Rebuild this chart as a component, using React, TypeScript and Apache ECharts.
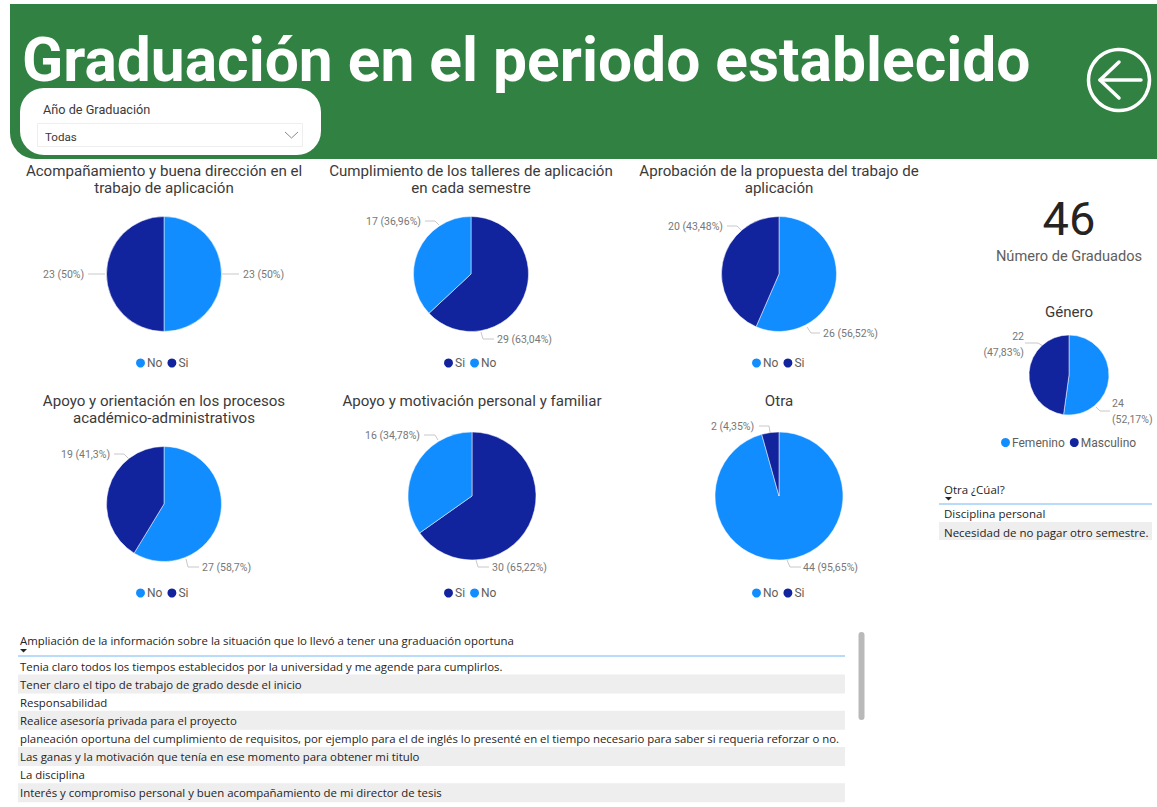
import React, { useEffect, useRef } from "react";
import * as echarts from "echarts";

const BLUE = "#118DFF";
const NAVY = "#12239E";

const pageTitle = "Graduación en el periodo establecido";
const slicerLabel = "Año de Graduación";
const slicerValue = "Todas";
const kpiValue = "46";
const kpiLabel = "Número de Graduados";

const acompanamiento = [{ name: "No", value: 23 }, { name: "Si", value: 23 }];
const talleres = [{ name: "Si", value: 29 }, { name: "No", value: 17 }];
const propuesta = [{ name: "No", value: 26 }, { name: "Si", value: 20 }];
const apoyoOrientacion = [{ name: "No", value: 27 }, { name: "Si", value: 19 }];
const apoyoPersonal = [{ name: "Si", value: 30 }, { name: "No", value: 16 }];
const otra = [{ name: "No", value: 44 }, { name: "Si", value: 2 }];
const genero = [{ name: "Femenino", value: 24 }, { name: "Masculino", value: 22 }];

const otraHeader = "Otra ¿Cúal?";
const otraRows = ["Disciplina personal", "Necesidad de no pagar otro semestre."];
const amplHeader = "Ampliación de la información sobre la situación que lo llevó a tener una graduación oportuna";
const amplRows = [
  "Tenia claro todos los tiempos establecidos por la universidad y me agende para cumplirlos.",
  "Tener claro el tipo de trabajo de grado desde el inicio",
  "Responsabilidad",
  "Realice asesoría privada para el proyecto",
  "planeación oportuna del cumplimiento de requisitos, por ejemplo para el de inglés lo presenté en el tiempo necesario para saber si requeria reforzar o no.",
  "Las ganas y la motivación que tenía en ese momento para obtener mi titulo",
  "La disciplina",
  "Interés y compromiso personal y buen acompañamiento de mi director de tesis",
];

const DIN = "Roboto, sans-serif";
const UI = "'Open Sans', sans-serif";

// Label placement per slice: text anchor and the leader line's three points.
type Place = { x: number; y: number; align: string; line: number[][] };
const pies: { title: string; data: { name: string; value: number }[]; cx: number; cy: number; r: number; tx: number; ty: number; lx: number; ly: number; places: Place[] }[] = [
  {
    title: "Acompañamiento y buena dirección en el\ntrabajo de aplicación", data: acompanamiento, cx: 164, cy: 274, r: 57.5, tx: 164, ty: 162, lx: 134, ly: 356.5,
    places: [
      { x: 243, y: 274, align: "left", line: [[222, 274], [230, 274], [239, 274]] },
      { x: 43, y: 274, align: "left", line: [[105, 274], [96, 274], [88, 274]] },
    ],
  },
  {
    title: "Cumplimiento de los talleres de aplicación\nen cada semestre", data: talleres, cx: 471, cy: 274, r: 57.5, tx: 471, ty: 162, lx: 442, ly: 356.5,
    places: [
      { x: 497, y: 339, align: "left", line: [[481, 332], [483, 339], [494, 339]] },
      { x: 366, y: 221, align: "left", line: [[439, 225], [435, 221], [425, 221]] },
    ],
  },
  {
    title: "Aprobación de la propuesta del trabajo de\naplicación", data: propuesta, cx: 779, cy: 274, r: 57.5, tx: 779, ty: 162, lx: 750, ly: 356.5,
    places: [
      { x: 823, y: 333, align: "left", line: [[807, 327], [811, 333], [820, 333]] },
      { x: 668, y: 226, align: "left", line: [[742, 231], [737, 226], [727, 226]] },
    ],
  },
  {
    title: "Apoyo y orientación en los procesos\nacadémico-administrativos", data: apoyoOrientacion, cx: 164, cy: 504, r: 57.5, tx: 164, ty: 392, lx: 134, ly: 586.5,
    places: [
      { x: 202, y: 567, align: "left", line: [[186, 559], [188, 567], [199, 567]] },
      { x: 61, y: 454, align: "left", line: [[128, 458], [124, 454], [114, 454]] },
    ],
  },
  {
    title: "Apoyo y motivación personal y familiar", data: apoyoPersonal, cx: 472, cy: 496, r: 64, tx: 472, ty: 392, lx: 442, ly: 586.5,
    places: [
      { x: 492, y: 567, align: "left", line: [[476, 560], [478, 567], [489, 567]] },
      { x: 365, y: 435, align: "left", line: [[438, 440], [435, 435], [424, 435]] },
    ],
  },
  {
    title: "Otra", data: otra, cx: 779, cy: 496, r: 64, tx: 779, ty: 392, lx: 750, ly: 586.5,
    places: [
      { x: 803, y: 567, align: "left", line: [[787, 560], [790, 567], [801, 567]] },
      { x: 711, y: 426, align: "left", line: [[770, 432], [769, 426], [759, 426]] },
    ],
  },
  {
    title: "Género", data: genero, cx: 1069, cy: 375, r: 40, tx: 1069, ty: 303, lx: 999, ly: 436,
    places: [
      { x: 1112, y: 411, align: "left", line: [[1096, 407], [1100, 411], [1110, 411]] },
      { x: 1024, y: 344, align: "right", line: [[1043, 346], [1038, 343], [1025, 343]] },
    ],
  },
];

const colorOf = (name: string) => (name === "No" || name === "Femenino" ? BLUE : NAVY);

function buildGraphic() {
  const g: any[] = [
    { type: "rect", shape: { x: 10, y: 4, width: 1147, height: 155, r: [0, 0, 0, 26] }, style: { fill: "#318242" } },
    { type: "rect", shape: { x: 20, y: 88, width: 301, height: 67, r: 24 }, style: { fill: "#fff" } },
    { type: "rect", shape: { x: 37.5, y: 123.5, width: 265, height: 23 }, style: { fill: "#fff", stroke: "#eeeeee", lineWidth: 1 } },
    { type: "polyline", shape: { points: [[285, 132], [291.5, 138], [298, 132]] }, style: { stroke: "#8a8a8a", lineWidth: 1, fill: "none" } },
    { type: "text", x: 22, y: 60, style: { text: pageTitle, font: `bold 60.5px ${DIN}`, fill: "#fff", textVerticalAlign: "middle" } },
    { type: "text", x: 43, y: 109, style: { text: slicerLabel, font: `12.7px ${DIN}`, fill: "#3b3a39", textVerticalAlign: "middle" } },
    { type: "text", x: 45, y: 137, style: { text: slicerValue, font: `11.6px ${DIN}`, fill: "#3b3a39", textVerticalAlign: "middle" } },
    { type: "circle", shape: { cx: 1119, cy: 80, r: 30.5 }, style: { fill: "none", stroke: "#fff", lineWidth: 3.5 } },
    { type: "line", shape: { x1: 1100, y1: 80, x2: 1141, y2: 80 }, style: { stroke: "#fff", lineWidth: 3.5, lineCap: "round" } },
    { type: "polyline", shape: { points: [[1119, 62], [1100, 80], [1119, 98]] }, style: { stroke: "#fff", lineWidth: 3.5, fill: "none", lineCap: "round", lineJoin: "round" } },
    { type: "text", x: 1069, y: 218, style: { text: kpiValue, font: `47px ${DIN}`, fill: "#252423", textAlign: "center", textVerticalAlign: "middle" } },
    { type: "text", x: 1069, y: 256, style: { text: kpiLabel, font: `14.6px ${DIN}`, fill: "#605e5c", textAlign: "center", textVerticalAlign: "middle" } },
  ];
  // Otra table
  g.push({ type: "text", x: 944, y: 489, style: { text: otraHeader, font: `11.5px ${UI}`, fill: "#252423", textVerticalAlign: "middle" } });
  g.push({ type: "polygon", shape: { points: [[945, 497], [952, 497], [948.5, 500.5]] }, style: { fill: "#252423" } });
  g.push({ type: "line", shape: { x1: 939, y1: 504, x2: 1152, y2: 504 }, style: { stroke: "#a0cff7", lineWidth: 1.5 } });
  g.push({ type: "rect", shape: { x: 939, y: 522, width: 213, height: 18 }, style: { fill: "#eeeeee" } });
  otraRows.forEach((t, i) => g.push({ type: "text", x: 944, y: 513.5 + i * 19, style: { text: t, font: `11.5px ${UI}`, fill: "#252423", textVerticalAlign: "middle" } }));
  // Main table
  g.push({ type: "text", x: 20, y: 640.5, style: { text: amplHeader, font: `11.4px ${UI}`, fill: "#252423", textVerticalAlign: "middle" } });
  g.push({ type: "polygon", shape: { points: [[20, 649], [27, 649], [23.5, 652.5]] }, style: { fill: "#252423" } });
  g.push({ type: "line", shape: { x1: 18, y1: 656, x2: 845, y2: 656 }, style: { stroke: "#a0cff7", lineWidth: 1.5 } });
  amplRows.forEach((t, i) => {
    const y = 666 + i * 18.1;
    if (i % 2 === 1) g.push({ type: "rect", shape: { x: 18, y: y - 9.5, width: 827, height: 19 }, style: { fill: "#eeeeee" } });
    g.push({ type: "text", x: 20, y, z: 5, style: { text: t, font: `11.4px ${UI}`, fill: "#252423", textVerticalAlign: "middle" } });
  });
  g.push({ type: "rect", shape: { x: 858.5, y: 632, width: 6, height: 88, r: 3 }, style: { fill: "#b9b9b9" } });
  return g;
}

export default function App() {
  const ref = useRef<HTMLDivElement>(null);
  useEffect(() => {
    const chart = echarts.init(ref.current!, undefined, { renderer: "svg" });
    chart.setOption({
      animation: false,
      backgroundColor: "#fff",
      graphic: buildGraphic(),
      title: pies.map((p) => ({
        text: p.title, left: p.tx, top: p.ty, textAlign: "center", padding: 0,
        textStyle: { fontFamily: DIN, fontSize: 15.1, fontWeight: "normal", color: "#3b3a39", lineHeight: 17.5 },
      })),
      legend: pies.map((p) => ({
        left: p.lx, top: p.ly, orient: "horizontal", padding: 0, itemGap: 3, itemWidth: 11, itemHeight: 11, icon: "circle",
        selectedMode: false, data: p.data.map((d) => d.name),
        textStyle: { fontFamily: DIN, fontSize: 12, color: "#605e5c", padding: [0, 0, 0, -4] },
      })),
      series: pies.map((p) => ({
        type: "pie", center: [p.cx, p.cy], radius: [0, p.r], startAngle: 90, clockwise: true,
        avoidLabelOverlap: false, percentPrecision: 2,
        itemStyle: { borderColor: "#fff", borderWidth: 0.5 },
        data: p.data.map((d) => ({ ...d, itemStyle: { color: colorOf(d.name) } })),
        label: {
          show: true, position: "outside", fontFamily: DIN, fontSize: 10.5, color: "#777777", lineHeight: 16,
          formatter: (q: any) => {
            const pct = String(q.percent).replace(".", ",");
            return p.r === 40 ? `${q.value}\n(${pct}%)` : `${q.value} (${pct}%)`;
          },
        },
        labelLine: { show: true, length: 8, length2: 10, lineStyle: { color: "#c8c8c8", width: 1 } },
        labelLayout: (q: any) => {
          const pl = p.places[q.dataIndex];
          return { x: pl.x, y: pl.y, align: pl.align, verticalAlign: "middle", labelLinePoints: pl.line };
        },
      })),
    });
    return () => chart.dispose();
  }, []);
  return <div ref={ref} style={{ position: "fixed", left: 0, top: 0, width: 1157, height: 807 }} />;
}
